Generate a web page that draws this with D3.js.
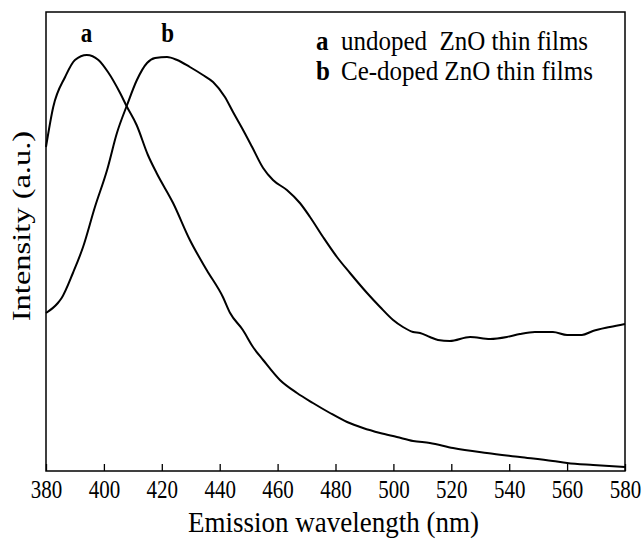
<!DOCTYPE html>
<html>
<head>
<meta charset="utf-8">
<script src="https://cdn.jsdelivr.net/npm/d3@7"></script>
<style>
  html, body { margin: 0; padding: 0; background: #fff; }
  svg { display: block; }
  text { font-family: "Liberation Serif", "Times New Roman", serif; fill: #000; }
</style>
</head>
<body>
<svg id="chart" width="643" height="540"></svg>
<script>
// ---- data ----
const xTicks = [380, 400, 420, 440, 460, 480, 500, 520, 540, 560, 580];

// a: undoped ZnO thin films
const wavelengthA = [380, 382.5, 386.6, 390, 394.1, 398.1, 401.4, 405.6, 408, 411.3, 415.2, 418.2, 423.9, 429.7, 435.5, 441.1, 443.6, 448, 451.5, 455, 460.8, 466.7, 472.2, 478.1, 484, 489.5, 495.4, 501.2, 506.8, 512.6, 520.6, 532.3, 543.7, 555.1, 560, 569, 580];
const intensityA  = [324, 364, 394, 411, 416, 411, 399, 378, 364, 346, 316, 298, 268, 231, 201, 174, 158, 141, 124, 111, 91, 78, 68, 58, 49, 43, 38, 34, 30, 28, 23, 18, 14, 10, 8, 6, 4];

// b: Ce-doped ZnO thin films
const wavelengthB = [380, 384.1, 385.4, 389.3, 392.8, 396.9, 401.1, 404.5, 408, 411.4, 414.9, 417.7, 421.8, 425.3, 429.7, 434.2, 437.7, 441.8, 444.6, 447.7, 451.2, 455, 458.4, 463.2, 467.7, 471.2, 475.7, 480.5, 485, 490.9, 495.4, 499.9, 503.3, 506.8, 509.2, 512.6, 515.4, 519.5, 526.5, 533.4, 539.2, 543.7, 548.9, 555.1, 560, 565.1, 568.9, 574.8, 580];
const intensityB  = [158, 168, 173, 198, 224, 264, 301, 338, 366, 391, 408, 413, 414, 411, 404, 396, 389, 374, 359, 343, 324, 303, 291, 281, 268, 254, 234, 214, 198, 178, 164, 151, 144, 139, 138, 134, 131, 130, 134, 132, 134, 137, 139, 139, 136, 136, 140, 144, 147];

const peakLabels = ["a", "b"];
const peakLabelX = [394, 422];
const legendKeys = ["a", "b"];
const legendTexts = ["undoped\u00a0 ZnO thin films", "Ce-doped ZnO thin films"];
const xTitle = "Emission wavelength (nm)";
const yTitle = "Intensity (a.u.)";

// ---- layout ----
const plotL = 46, plotR = 625, plotT = 12, plotB = 471;
const vs = 1.2; // vertical stretch of the lettering in the reference

const svg = d3.select("#chart");
const x = d3.scaleLinear().domain([380, 580]).range([plotL, plotR]);
const y = d3.scaleLinear().domain([0, 459]).range([plotB, plotT]);

// frame
svg.append("rect")
  .attr("x", plotL).attr("y", plotT)
  .attr("width", plotR - plotL).attr("height", plotB - plotT)
  .attr("fill", "none").attr("stroke", "#000").attr("stroke-width", 1.5);

// bottom axis: inward ticks
const axis = d3.axisBottom(x).tickValues(xTicks).tickSizeInner(-7).tickSizeOuter(0).tickFormat(d3.format("d"));
const gx = svg.append("g").attr("transform", `translate(0,${plotB})`).call(axis);
gx.attr("font-family", null).attr("font-size", null);
gx.select(".domain").remove();
gx.selectAll(".tick line").attr("stroke", "#000").attr("stroke-width", 1.3);
gx.selectAll(".tick text").remove();
gx.selectAll(".tick").append("text")
  .attr("text-anchor", "middle")
  .attr("transform", `translate(0,27) scale(1,${vs})`)
  .style("font-size", "21px")
  .text(d => d);

// curves
const line = d3.line().x(d => x(d[0])).y(d => y(d[1])).curve(d3.curveMonotoneX);
const seriesA = wavelengthA.map((w, i) => [w, intensityA[i]]);
const seriesB = wavelengthB.map((w, i) => [w, intensityB[i]]);
[seriesA, seriesB].forEach(s => {
  svg.append("path").datum(s).attr("d", line)
    .attr("fill", "none").attr("stroke", "#000").attr("stroke-width", 2)
    .attr("stroke-linejoin", "round");
});

// peak labels
peakLabels.forEach((t, i) => {
  svg.append("text")
    .attr("text-anchor", "middle")
    .attr("transform", `translate(${x(peakLabelX[i])},42) scale(1,${vs})`)
    .style("font-size", "23px").style("font-weight", "bold")
    .text(t);
});

// legend
legendKeys.forEach((k, i) => {
  const g = svg.append("g").attr("transform", `translate(316,${50 + i * 30}) scale(1,1.1)`);
  g.append("text").style("font-size", "25px").style("font-weight", "bold").text(k);
  g.append("text").attr("x", 25).style("font-size", "25px").text(legendTexts[i]);
});

// axis titles
svg.append("text")
  .attr("text-anchor", "middle")
  .attr("transform", `translate(${(plotL + plotR) / 2 - 2},532) scale(1,1.1)`)
  .style("font-size", "27px")
  .text(xTitle);

svg.append("text")
  .attr("text-anchor", "middle")
  .attr("transform", `translate(30,226) rotate(-90) scale(1.25,1)`)
  .style("font-size", "26px")
  .text(yTitle);
</script>
</body>
</html>
